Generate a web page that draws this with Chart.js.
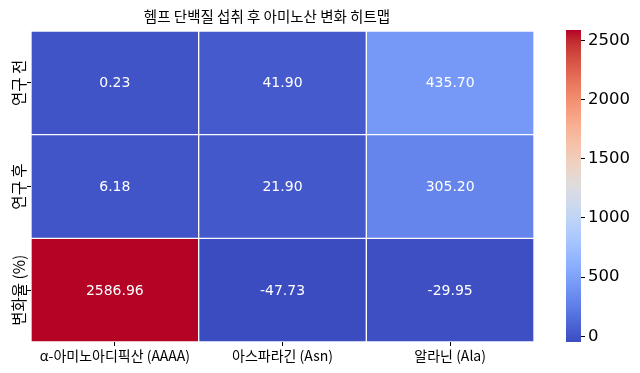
<!DOCTYPE html>
<html>
<head>
<meta charset="utf-8">
<script src="https://cdn.jsdelivr.net/npm/chart.js@4.4.1/dist/chart.umd.min.js"></script>
<style>
  html, body { margin: 0; padding: 0; background: #fff; }
  #wrap { position: relative; width: 640px; height: 373px; }
  #heat { position: absolute; left: 0; top: 0; }
  #cbar { position: absolute; left: 540px; top: 0; }
</style>
</head>
<body>
<div id="wrap">
  <canvas id="heat" width="565" height="373"></canvas>
  <canvas id="cbar" width="100" height="373"></canvas>
</div>
<script>
// ---- data ----
const title = '헴프 단백질 섭취 후 아미노산 변화 히트맵';
const rowLabels = ['연구 전', '연구 후', '변화율 (%)'];
const colLabels = ['α-아미노아디픽산 (AAAA)', '아스파라긴 (Asn)', '알라닌 (Ala)'];
const beforeValues = [0.23, 41.90, 435.70];
const afterValues = [6.18, 21.90, 305.20];
const changeValues = [2586.96, -47.73, -29.95];
const colorbarTicks = [0, 500, 1000, 1500, 2000, 2500];

const matrix = [beforeValues, afterValues, changeValues];
const allValues = matrix.flat();
const vmin = Math.min(...allValues);
const vmax = Math.max(...allValues);

// coolwarm colormap (Moreland)
const coolwarm = [
  [59,76,192],[68,90,204],[77,104,215],[87,117,225],[98,130,234],[108,142,241],
  [119,154,247],[130,165,251],[141,176,254],[152,185,255],[163,194,255],[174,201,253],
  [184,208,249],[194,213,244],[204,217,238],[213,219,230],[221,221,221],[229,216,209],
  [236,211,197],[241,204,185],[245,196,173],[247,187,160],[247,177,148],[247,166,135],
  [244,154,123],[241,141,111],[236,127,99],[229,112,88],[222,96,77],[213,80,66],
  [203,62,56],[192,40,47],[180,4,38]
];
function cmap(t) {
  t = Math.max(0, Math.min(1, t));
  const n = coolwarm.length - 1;
  const f = t * n;
  const i = Math.min(n - 1, Math.floor(f));
  const r = f - i;
  const a = coolwarm[i], b = coolwarm[i + 1];
  const c = a.map((v, k) => Math.round(v + (b[k] - v) * r));
  return `rgb(${c[0]},${c[1]},${c[2]})`;
}
const colorOf = v => cmap((v - vmin) / (vmax - vmin));

const KR = "'Noto Sans CJK KR', 'DejaVu Sans', sans-serif";
const NUM = "'DejaVu Sans', 'Noto Sans CJK KR', sans-serif";

const valueLabels = {
  id: 'valueLabels',
  afterDatasetsDraw(chart) {
    const ctx = chart.ctx;
    ctx.save();
    ctx.fillStyle = '#fff';
    ctx.font = `14px ${NUM}`;
    ctx.textAlign = 'center';
    ctx.textBaseline = 'middle';
    chart.data.datasets.forEach((ds, di) => {
      const meta = chart.getDatasetMeta(di);
      meta.data.forEach((el, j) => {
        const p = el.getProps(['x', 'y', 'base'], true);
        ctx.fillText(ds.values[j].toFixed(2), p.x, (p.y + p.base) / 2 + 1);
      });
    });
    ctx.restore();
  }
};

new Chart(document.getElementById('heat'), {
  type: 'bar',
  data: {
    labels: colLabels,
    datasets: matrix.map((vals, i) => ({
      label: rowLabels[i],
      values: vals,
      data: vals.map(() => [i, i + 1]),
      backgroundColor: vals.map(colorOf),
      borderColor: '#fff',
      borderWidth: 1,
      borderSkipped: false,
      barPercentage: 1,
      categoryPercentage: 1,
      grouped: false
    }))
  },
  options: {
    responsive: false,
    animation: false,
    events: [],
    layout: { padding: { left: 0, right: 31, top: 0, bottom: 0 } },
    plugins: {
      legend: { display: false },
      tooltip: { enabled: false },
      title: {
        display: true,
        text: title,
        color: '#000',
        font: { family: KR, size: 14.5, weight: 'normal', lineHeight: 1.2 },
        padding: { top: 7.5, bottom: 6.1 }
      }
    },
    scales: {
      x: {
        type: 'category',
        offset: true,
        grid: { display: true, drawOnChartArea: false, drawTicks: true, tickLength: 4, color: '#000', offset: false },
        border: { display: false },
        ticks: { color: '#000', font: { family: KR, size: 14 }, padding: 1, maxRotation: 0, minRotation: 0 },
        afterFit(s) { s.height = 31; }
      },
      y: {
        type: 'linear',
        min: 0, max: 3,
        reverse: true,
        afterBuildTicks(s) { s.ticks = rowLabels.map((_, i) => ({ value: i + 0.5 })); },
        grid: { display: true, drawOnChartArea: false, drawTicks: true, tickLength: 4, color: '#000' },
        border: { display: false },
        ticks: {
          color: '#000',
          font: { family: KR, size: 15.5 },
          minRotation: 90, maxRotation: 90,
          crossAlign: 'center',
          padding: -28,
          callback: (v) => rowLabels[Math.floor(v)]
        },
        afterFit(s) { s.width = 31; }
      }
    }
  },
  plugins: [valueLabels]
});

// ---- colorbar ----
new Chart(document.getElementById('cbar'), {
  type: 'bar',
  data: {
    labels: [''],
    datasets: [{
      data: [[vmin, vmax]],
      borderWidth: 0,
      barPercentage: 1,
      categoryPercentage: 1,
      backgroundColor(ctx) {
        const chart = ctx.chart;
        if (!chart.chartArea) return colorOf(vmin);
        const y = chart.scales.y;
        const g = chart.ctx.createLinearGradient(0, y.getPixelForValue(vmin), 0, y.getPixelForValue(vmax));
        for (let k = 0; k <= 64; k++) g.addColorStop(k / 64, cmap(k / 64));
        return g;
      }
    }]
  },
  options: {
    responsive: false,
    animation: false,
    events: [],
    layout: { padding: { left: 26, right: 0, top: 30, bottom: 31 } },
    plugins: { legend: { display: false }, tooltip: { enabled: false }, title: { display: false } },
    scales: {
      x: { display: false, offset: true },
      y: {
        type: 'linear',
        position: 'right',
        min: vmin, max: vmax,
        afterBuildTicks(s) { s.ticks = colorbarTicks.map(v => ({ value: v })); },
        grid: { display: true, drawOnChartArea: false, drawTicks: true, tickLength: 4, color: '#000' },
        border: { display: false },
        ticks: { color: '#000', font: { family: NUM, size: 16.5 }, padding: 3, callback: (v) => String(v) },
        afterFit(s) { s.width = 59; }
      }
    }
  }
});
</script>
</body>
</html>
